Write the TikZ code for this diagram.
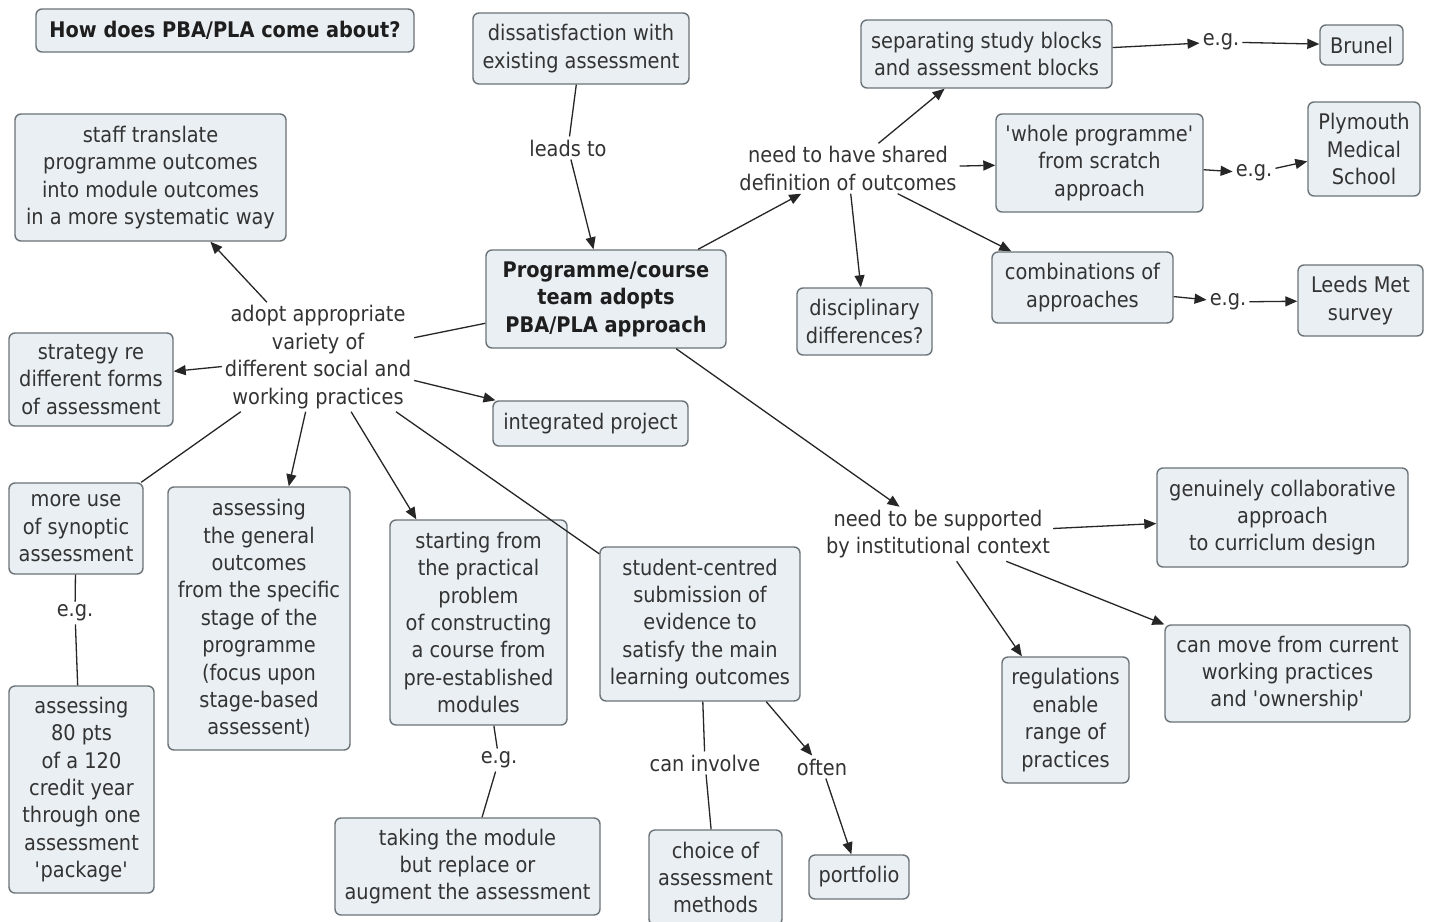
\documentclass[tikz,border=0pt]{standalone}
\usepackage{fontspec}
\setmainfont{DejaVu Sans}[FakeStretch=0.9]
\usetikzlibrary{arrows.meta}
\definecolor{boxfill}{HTML}{E9EFF3}
\definecolor{boxline}{HTML}{6B7378}
\definecolor{ink}{HTML}{333333}
\definecolor{inkb}{HTML}{1E1E1E}
\definecolor{lineink}{HTML}{262626}
\newcommand\mfs{\fontsize{21.5}{27.4}\selectfont}
\begin{document}
\begin{tikzpicture}[x=1pt,y=-1pt,font=\mfs,text=ink,
  box/.style={draw=boxline,fill=boxfill,rounded corners=6pt,line width=1.4pt,align=center,inner sep=2pt},
  boldbox/.style={box,font=\mfs\bfseries,text=inkb},
  lab/.style={align=center,inner sep=3pt},
  link/.style={draw=lineink,line width=1.3pt},
  arr/.style={link,-{Triangle[length=12pt,width=10pt]}}]
\fill[white] (0,0) rectangle (1431,921);
\useasboundingbox (0,0) rectangle (1431,921);
% boxes
\node[boldbox,minimum width=378pt,minimum height=43pt] (title) at (225,30.5) {How does PBA/PLA come about?};
\node[box,minimum width=216pt,minimum height=71pt] (dissat) at (581,48.5) {dissatisfaction with\\existing assessment};
\node[box,minimum width=271pt,minimum height=127pt] (staff) at (150.5,177.5) {staff translate\\programme outcomes\\into module outcomes\\in a more systematic way};
\node[boldbox,minimum width=240pt,minimum height=98pt] (main) at (606,299) {Programme/course\\team adopts\\PBA/PLA approach};
\node[box,minimum width=251pt,minimum height=68pt] (sep) at (986.5,54) {separating study blocks\\and assessment blocks};
\node[box,minimum width=83pt,minimum height=40pt] (brunel) at (1361.5,45) {Brunel};
\node[box,minimum width=207pt,minimum height=98pt] (whole) at (1099.5,163) {\textquotesingle whole programme\textquotesingle\\from scratch\\approach};
\node[box,minimum width=112pt,minimum height=94pt] (plymouth) at (1364,149) {Plymouth\\Medical\\School};
\node[box,minimum width=181pt,minimum height=71pt] (combos) at (1082.5,287.5) {combinations of\\approaches};
\node[box,minimum width=125pt,minimum height=71pt] (leeds) at (1360.5,300.5) {Leeds Met\\survey};
\node[box,minimum width=135pt,minimum height=67pt] (discip) at (864.5,321.5) {disciplinary\\differences?};
\node[box,minimum width=164pt,minimum height=93pt] (strategy) at (91,379.5) {strategy re\\different forms\\of assessment};
\node[box,minimum width=195pt,minimum height=45pt] (integrated) at (590.5,423.5) {integrated project};
\node[box,minimum width=134pt,minimum height=91pt] (moreuse) at (76,528.5) {more use\\of synoptic\\assessment};
\node[box,minimum width=182pt,minimum height=263pt] (general) at (259,618.5) {assessing\\the general\\outcomes\\from the specific\\stage of the\\programme\\(focus upon\\stage-based\\assessent)};
\node[box,minimum width=177pt,minimum height=205pt] (starting) at (478.5,622.5) {starting from\\the practical\\problem\\of constructing\\a course from\\pre-established\\modules};
\node[box,minimum width=200pt,minimum height=154pt] (student) at (700,624) {student-centred\\submission of\\evidence to\\satisfy the main\\learning outcomes};
\node[box,minimum width=145pt,minimum height=207pt] (assess80) at (81.5,789.5) {assessing\\80 pts\\of a 120\\credit year\\through one\\assessment\\\textquotesingle package\textquotesingle};
\node[box,minimum width=265pt,minimum height=97pt] (taking) at (467.5,866.5) {taking the module\\but replace or\\augment the assessment};
\node[box,minimum width=133pt,minimum height=95pt] (choice) at (715.5,877.5) {choice of\\assessment\\methods};
\node[box,minimum width=100pt,minimum height=44pt] (portfolio) at (859,877) {portfolio};
\node[box,minimum width=251pt,minimum height=99pt] (genuine) at (1282.5,517.5) {genuinely collaborative\\approach\\to curriclum design};
\node[box,minimum width=127pt,minimum height=126pt] (regulations) at (1065.5,720) {regulations\\enable\\range of\\practices};
\node[box,minimum width=245pt,minimum height=97pt] (canmove) at (1287.5,673.5) {can move from current\\working practices\\and \textquotesingle ownership\textquotesingle};
% linking phrases
\node[lab] (leadsto) at (568,148) {leads to};
\node[lab] (needshared) at (848,168.5) {need to have shared\\definition of outcomes};
\node[lab] (eg1) at (1221,42) {e.g.};
\node[lab] (eg2) at (1254,173) {e.g.};
\node[lab] (eg3) at (1228,302) {e.g.};
\node[lab] (adopt) at (318,357) {adopt appropriate\\variety of\\different social and\\working practices};
\node[lab] (needsup) at (938,534) {need to be supported\\by institutional context};
\node[lab] (eg4) at (75,613) {e.g.};
\node[lab] (eg5) at (499,760) {e.g.};
\node[lab] (caninv) at (705,763) {can involve};
\node[lab] (often) at (822,767) {often};
% connectors
\draw[link] (dissat) -- (leadsto);
\draw[arr] (leadsto) -- (main);
\draw[arr] (main) -- (needshared);
\draw[arr] (needshared) -- (sep);
\draw[arr] (needshared) -- (whole);
\draw[arr] (needshared) -- (discip);
\draw[arr] (needshared) -- (combos);
\draw[arr] (sep) -- (eg1);
\draw[arr] (eg1) -- (brunel);
\draw[arr] (whole) -- (eg2);
\draw[arr] (eg2) -- (plymouth);
\draw[arr] (combos) -- (eg3);
\draw[arr] (eg3) -- (leeds);
\draw[link] (main) -- (adopt);
\draw[arr] (adopt) -- (staff);
\draw[arr] (adopt) -- (strategy);
\draw[arr] (adopt) -- (integrated);
\draw[link] (adopt) -- (moreuse);
\draw[arr] (adopt) -- (general);
\draw[arr] (adopt) -- (starting);
\draw[link] (adopt) -- (student);
\draw[link] (moreuse) -- (eg4);
\draw[link] (eg4) -- (assess80);
\draw[link] (starting) -- (eg5);
\draw[link] (eg5) -- (taking);
\draw[link] (student) -- (caninv);
\draw[link] (caninv) -- (choice);
\draw[arr] (student) -- (often);
\draw[arr] (often) -- (portfolio);
\draw[arr] (main) -- (needsup);
\draw[arr] (needsup) -- (genuine);
\draw[arr] (needsup) -- (regulations);
\draw[arr] (needsup) -- (canmove);
\end{tikzpicture}
\end{document}
